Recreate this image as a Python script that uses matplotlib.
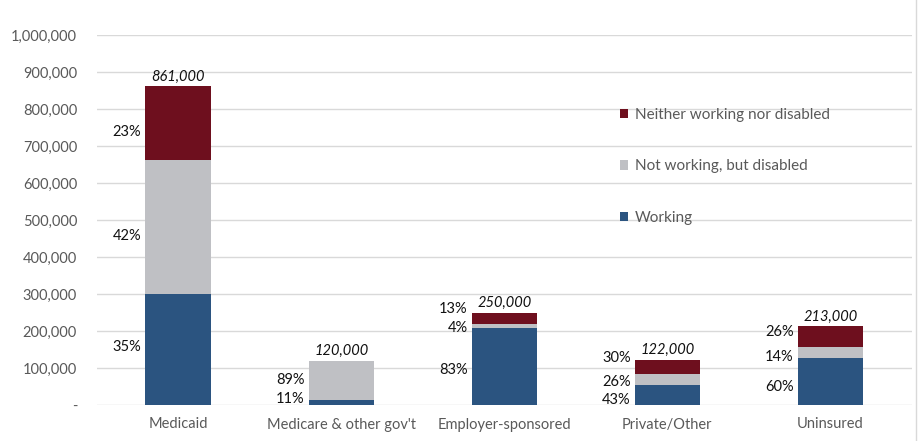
import matplotlib
matplotlib.use("Agg")
import matplotlib.pyplot as plt
from matplotlib.patches import Patch
from matplotlib.lines import Line2D
from matplotlib.ticker import FuncFormatter

plt.rcParams['font.family'] = ['Lato', 'DejaVu Sans']

categories = ["Medicaid", "Medicare & other gov't", "Employer-sponsored", "Private/Other", "Uninsured"]
working = [301000, 13000, 208000, 53000, 128000]
disabled = [362000, 107000, 10000, 32000, 30000]
neither = [198000, 0, 32000, 37000, 55000]
totals = ["861,000", "120,000", "250,000", "122,000", "213,000"]
pct_working = ["35%", "11%", "83%", "43%", "60%"]
pct_disabled = ["42%", "89%", "4%", "26%", "14%"]
pct_neither = ["23%", "", "13%", "30%", "26%"]
yticks = [0, 100000, 200000, 300000, 400000, 500000, 600000, 700000, 800000, 900000, 1000000]

# label vertical positions (data units) for percentage annotations
lab_y_working = [157000, 16000, 94000, 13000, 49000]
lab_y_disabled = [458000, 67000, 208000, 62000, 129000]
lab_y_neither = [737000, 0, 259000, 127000, 197000]

c_work = "#2B5480"
c_dis = "#BFC0C4"
c_nei = "#6E0F1E"
grey_txt = "#595959"

fig = plt.figure(figsize=(9.19, 4.41), dpi=100)
ax = fig.add_axes([96.5/919, 36/441, 815.5/919, 370/441])

x = list(range(len(categories)))
w = 0.4
b1 = ax.bar(x, working, width=w, color=c_work, zorder=3)
bottom2 = working
b2 = ax.bar(x, disabled, width=w, bottom=bottom2, color=c_dis, zorder=3)
bottom3 = [a + b for a, b in zip(working, disabled)]
b3 = ax.bar(x, neither, width=w, bottom=bottom3, color=c_nei, zorder=3)

for i in x:
    top = bottom3[i] + neither[i]
    ax.annotate(totals[i], (i, top), xytext=(0, 2), textcoords="offset points",
                ha="center", va="bottom", fontsize=10.5, style="italic", color="#111111")
    for txt, yy in ((pct_working[i], lab_y_working[i]), (pct_disabled[i], lab_y_disabled[i]),
                    (pct_neither[i], lab_y_neither[i])):
        if txt:
            ax.annotate(txt, (i - w/2, yy), xytext=(-3, 0), textcoords="offset points",
                        ha="right", va="center", fontsize=10.5, color="#111111")

ax.set_xlim(-0.5, len(categories) - 0.5)
ax.set_ylim(0, 1000000)
ax.set_yticks(yticks)
ax.yaxis.set_major_formatter(FuncFormatter(lambda v, p: "-" if v == 0 else f"{int(v):,}"))
ax.set_xticks(x)
ax.set_xticklabels(categories)
ax.tick_params(axis="both", length=0, labelsize=10.5, labelcolor=grey_txt)
ax.tick_params(axis="y", pad=14)
ax.tick_params(axis="x", pad=9)
ax.grid(axis="y", color="#D9D9D9", linewidth=1, zorder=0)
for s in ax.spines.values():
    s.set_visible(False)

handles = [Patch(facecolor=c_nei, label="Neither working nor disabled"),
           Patch(facecolor=c_dis, label="Not working, but disabled"),
           Patch(facecolor=c_work, label="Working")]
leg = ax.legend(handles=handles, loc="upper left", bbox_to_anchor=(620/919, 1 - 108/441),
                bbox_transform=fig.transFigure, frameon=False, fontsize=11,
                labelspacing=2.45, handlelength=0.55, handleheight=0.55, handletextpad=0.4,
                borderaxespad=0, borderpad=0)
for t in leg.get_texts():
    t.set_color(grey_txt)

fig.add_artist(Line2D([915.5/919, 915.5/919], [0, 1], transform=fig.transFigure,
                      color="#D9D9D9", linewidth=1))

fig.savefig("out.png", dpi=100)
